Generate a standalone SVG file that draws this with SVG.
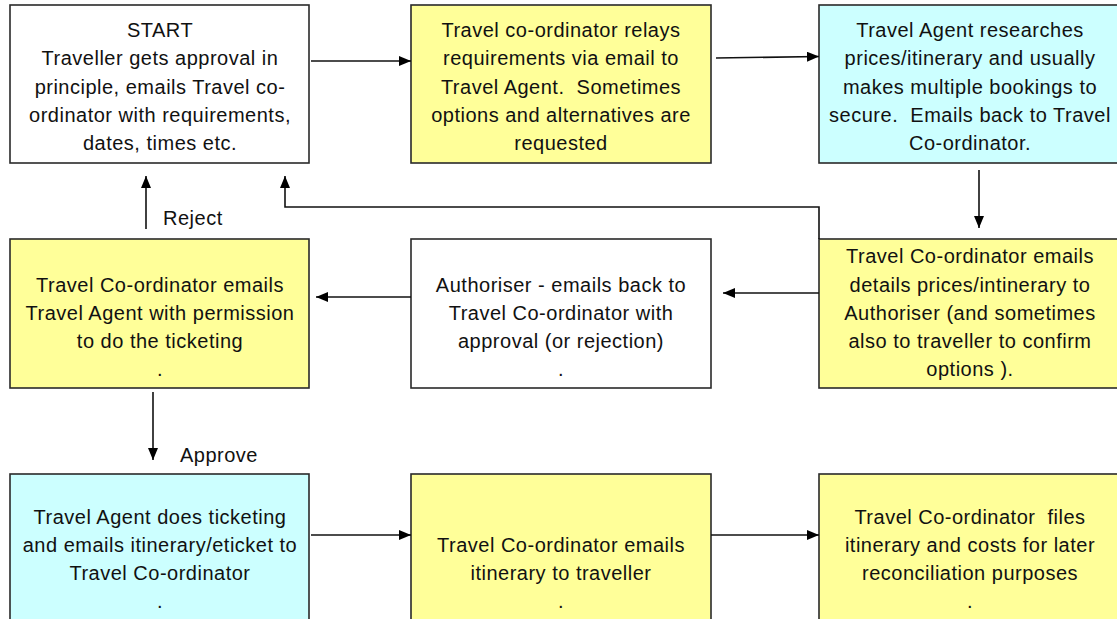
<svg xmlns="http://www.w3.org/2000/svg" width="1117" height="619" viewBox="0 0 1117 619">
<defs>
<style>
.box{stroke:#2a2a2a;stroke-width:1.6}
.y{fill:#ffff99}
.c{fill:#ccffff}
.w{fill:#ffffff}
text{font-family:"Liberation Sans",Arial,sans-serif;font-size:20px;letter-spacing:0.5px;fill:#111}
.t{text-anchor:middle}
.con{fill:none;stroke:#111;stroke-width:1.6}
</style>
<marker id="ah" markerUnits="userSpaceOnUse" markerWidth="13" markerHeight="11" refX="12" refY="5" orient="auto">
<path d="M0,0 L12,5 L0,10 z" fill="#000"/>
</marker>
</defs>
<rect width="1117" height="619" fill="#ffffff"/>

<g id="n1">
<rect class="box w" x="10" y="5" width="299" height="158"/>
<text class="t" x="160" y="37">START</text>
<text class="t" x="160" y="65">Traveller gets approval in</text>
<text class="t" x="160" y="93.5">principle, emails Travel co-</text>
<text class="t" x="160" y="122">ordinator with requirements,</text>
<text class="t" x="160" y="150">dates, times etc.</text>
</g>
<g id="n2">
<rect class="box y" x="411" y="5" width="300" height="158"/>
<text class="t" x="561" y="37">Travel co-ordinator relays</text>
<text class="t" x="561" y="65">requirements via email to</text>
<text class="t" x="561" y="93.5" xml:space="preserve">Travel Agent.  Sometimes</text>
<text class="t" x="561" y="122">options and alternatives are</text>
<text class="t" x="561" y="150">requested</text>
</g>
<g id="n3">
<rect class="box c" x="819" y="5" width="302" height="158"/>
<text class="t" x="970" y="37">Travel Agent researches</text>
<text class="t" x="970" y="65">prices/itinerary and usually</text>
<text class="t" x="970" y="93.5">makes multiple bookings to</text>
<text class="t" x="970" y="122" xml:space="preserve">secure.  Emails back to Travel</text>
<text class="t" x="970" y="150">Co-ordinator.</text>
</g>
<g id="n4">
<rect class="box y" x="10" y="239" width="299" height="149"/>
<text class="t" x="160" y="291.5">Travel Co-ordinator emails</text>
<text class="t" x="160" y="319.5">Travel Agent with permission</text>
<text class="t" x="160" y="347.5">to do the ticketing</text>
<text class="t" x="160" y="376">.</text>
</g>
<g id="n5">
<rect class="box w" x="411" y="239" width="300" height="149"/>
<text class="t" x="561" y="291.5">Authoriser - emails back to</text>
<text class="t" x="561" y="319.5">Travel Co-ordinator with</text>
<text class="t" x="561" y="347.5">approval (or rejection)</text>
<text class="t" x="561" y="376">.</text>
</g>
<g id="n6">
<rect class="box y" x="819" y="239" width="302" height="149"/>
<text class="t" x="970" y="263">Travel Co-ordinator emails</text>
<text class="t" x="970" y="291.5">details prices/intinerary to</text>
<text class="t" x="970" y="319.5">Authoriser (and sometimes</text>
<text class="t" x="970" y="347.5">also to traveller to confirm</text>
<text class="t" x="970" y="376">options ).</text>
</g>
<g id="n7">
<rect class="box c" x="10" y="474" width="299" height="160"/>
<text class="t" x="160" y="524">Travel Agent does ticketing</text>
<text class="t" x="160" y="552">and emails itinerary/eticket to</text>
<text class="t" x="160" y="580">Travel Co-ordinator</text>
<text class="t" x="160" y="608">.</text>
</g>
<g id="n8">
<rect class="box y" x="411" y="474" width="300" height="160"/>
<text class="t" x="561" y="552">Travel Co-ordinator emails</text>
<text class="t" x="561" y="580">itinerary to traveller</text>
<text class="t" x="561" y="608">.</text>
</g>
<g id="n9">
<rect class="box y" x="819" y="474" width="302" height="160"/>
<text class="t" x="970" y="524" xml:space="preserve">Travel Co-ordinator  files</text>
<text class="t" x="970" y="552">itinerary and costs for later</text>
<text class="t" x="970" y="580">reconciliation purposes</text>
<text class="t" x="970" y="608">.</text>
</g>

<g id="connectors">
<path class="con" d="M311,61 H411" marker-end="url(#ah)"/>
<path class="con" d="M716,58 L819,56.5" marker-end="url(#ah)"/>
<path class="con" d="M979,170 V228" marker-end="url(#ah)"/>
<path class="con" d="M819,293 H723" marker-end="url(#ah)"/>
<path class="con" d="M411,297 H316" marker-end="url(#ah)"/>
<path class="con" d="M153,392 V460" marker-end="url(#ah)"/>
<path class="con" d="M146,229 V176" marker-end="url(#ah)"/>
<path class="con" d="M819,239 V207 H285 V176" marker-end="url(#ah)"/>
<path class="con" d="M311,535 H411" marker-end="url(#ah)"/>
<path class="con" d="M711,535 H819" marker-end="url(#ah)"/>
<text x="163" y="225">Reject</text>
<text x="180" y="461.5">Approve</text>
</g>
</svg>
